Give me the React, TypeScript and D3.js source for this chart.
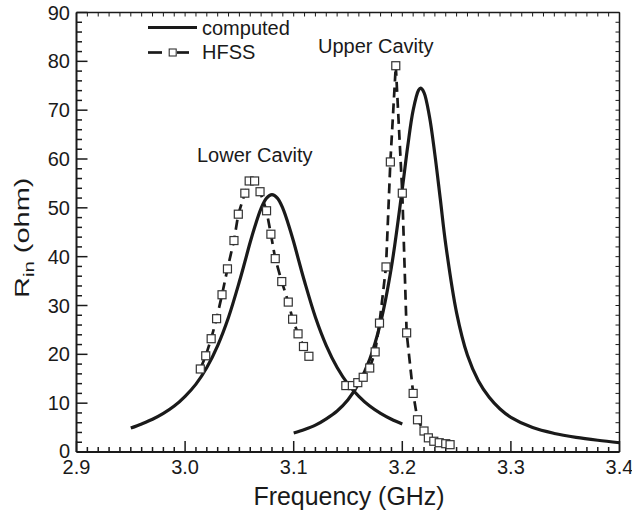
import React from "react";
import * as d3 from "d3";

// ---- data ----
const xTickLabels = [2.9, 3.0, 3.1, 3.2, 3.3, 3.4];
const yTickLabels = [0, 10, 20, 30, 40, 50, 60, 70, 80, 90];

const computedLower: [number, number][] = [
  [2.95, 4.9], [2.96, 5.75], [2.97, 6.7], [2.98, 7.9], [2.99, 9.4], [3.0, 11.4],
  [3.01, 13.9], [3.02, 17.3], [3.03, 21.8], [3.04, 27.6], [3.05, 34.9], [3.055, 38.9],
  [3.06, 43.0], [3.065, 46.7], [3.07, 49.9], [3.075, 52.0], [3.08, 52.7], [3.085, 52.0],
  [3.09, 49.9], [3.095, 46.7], [3.1, 43.0], [3.105, 38.9], [3.11, 34.9], [3.12, 27.6],
  [3.13, 21.8], [3.14, 17.3], [3.15, 13.9], [3.16, 11.4], [3.17, 9.4], [3.18, 7.9],
  [3.19, 6.7], [3.2, 5.75],
];

const computedUpper: [number, number][] = [
  [3.1, 3.9], [3.11, 4.6], [3.12, 5.5], [3.13, 6.8], [3.14, 8.4], [3.15, 10.7],
  [3.16, 14.1], [3.17, 19.0], [3.18, 26.5], [3.19, 37.9], [3.2, 53.9], [3.205, 62.6],
  [3.21, 70.0], [3.215, 74.1], [3.217, 74.5], [3.22, 73.6], [3.225, 68.7], [3.23, 60.9],
  [3.235, 51.8], [3.24, 42.5], [3.25, 28.5], [3.26, 19.8], [3.27, 14.6], [3.28, 11.2],
  [3.29, 8.8], [3.3, 7.1], [3.32, 5.0], [3.34, 3.8], [3.36, 3.0], [3.38, 2.4], [3.4, 1.9],
];

const hfssLower: [number, number][] = [
  [3.014, 17.0], [3.019, 19.7], [3.024, 23.2], [3.029, 27.3], [3.034, 32.2], [3.039, 37.5],
  [3.045, 43.3], [3.049, 48.7], [3.055, 53.0], [3.059, 55.5], [3.064, 55.5], [3.069, 53.3],
  [3.075, 49.4], [3.079, 44.6], [3.083, 39.6], [3.089, 34.9], [3.095, 30.7], [3.099, 27.2],
  [3.104, 24.2], [3.109, 21.6], [3.114, 19.6],
];

const hfssUpper: [number, number][] = [
  [3.148, 13.6], [3.154, 13.6], [3.159, 14.2], [3.164, 15.3], [3.170, 17.2], [3.175, 20.5],
  [3.179, 26.4], [3.185, 37.9], [3.189, 59.4], [3.194, 79.1], [3.2, 53.0], [3.204, 24.4],
  [3.21, 12.0], [3.214, 6.6], [3.22, 4.3], [3.224, 2.9], [3.229, 2.2], [3.234, 1.9],
  [3.24, 1.7], [3.244, 1.5],
];

const W = 632;
const H = 516;
const FONT = "'Liberation Sans', Arial, Helvetica, sans-serif";
const INK = "#1a1a1a";

export default function App() {
  const x = d3.scaleLinear().domain([2.9, 3.4]).range([76.5, 619.5]);
  const y = d3.scaleLinear().domain([0, 90]).range([452, 12.5]);

  const line = d3
    .line<[number, number]>()
    .x((d) => x(d[0]))
    .y((d) => y(d[1]))
    .curve(d3.curveCatmullRom.alpha(0.5));
  const straight = d3
    .line<[number, number]>()
    .x((d) => x(d[0]))
    .y((d) => y(d[1]));

  const xMinor = d3.range(0, 51).map((i) => ({ v: 2.9 + i * 0.01, major: i % 10 === 0 }));
  const yMinor = d3.range(0, 46).map((i) => ({ v: i * 2, major: i % 5 === 0 }));

  const [x0, x1] = x.range();
  const [yb, yt] = y.range();

  const sq = 8;
  const lsq = 7;

  return (
    <svg width={W} height={H} style={{ position: "absolute", left: 0, top: 0, background: "#fff" }}>
      <rect x={0} y={0} width={W} height={H} fill="#fff" />
      {/* frame */}
      <line x1={x0} x2={x1} y1={yb} y2={yb} stroke={INK} strokeWidth={2} />
      <line x1={x0} x2={x0} y1={yb} y2={yt} stroke={INK} strokeWidth={2} />
      <line x1={x0} x2={x1} y1={yt} y2={yt} stroke={INK} strokeWidth={1.5} />
      <line x1={x1} x2={x1} y1={yb} y2={yt} stroke={INK} strokeWidth={1.5} />
      {/* x ticks */}
      {xMinor.map((t, i) => (
        <g key={"xt" + i}>
          <line x1={x(t.v)} x2={x(t.v)} y1={yb} y2={yb - (t.major ? 11 : 5)} stroke={INK} strokeWidth={1.5} />
          <line x1={x(t.v)} x2={x(t.v)} y1={yt} y2={yt + 4} stroke={INK} strokeWidth={1} />
        </g>
      ))}
      {yMinor.map((t, i) => (
        <g key={"yt" + i}>
          <line x1={x0} x2={x0 + (t.major ? 11 : 5.5)} y1={y(t.v)} y2={y(t.v)} stroke={INK} strokeWidth={1.5} />
          <line x1={x1} x2={x1 - 4} y1={y(t.v)} y2={y(t.v)} stroke={INK} strokeWidth={1} />
        </g>
      ))}
      {xTickLabels.map((v) => (
        <text key={"xl" + v} x={x(v)} y={473.5} textAnchor="middle" fontFamily={FONT} fontSize={20} fill={INK}>
          {d3.format(".1f")(v)}
        </text>
      ))}
      {yTickLabels.map((v) => (
        <text key={"yl" + v} x={70} y={y(v) + (v === 0 ? 5.5 : 7)} textAnchor="end" fontFamily={FONT} fontSize={20} fill={INK}>
          {v}
        </text>
      ))}
      {/* axis titles */}
      <text x={349} y={505} textAnchor="middle" fontFamily={FONT} fontSize={26} fill={INK} textLength={191} lengthAdjust="spacingAndGlyphs">
        Frequency (GHz)
      </text>
      <g transform="translate(28.5,298) rotate(-90) scale(1.45,1)">
        <text x={0} y={0} fontFamily={FONT} fontSize={20} fill={INK}>
          R<tspan dy={5} fontSize={14}>in</tspan>
          <tspan dy={-5}> (ohm)</tspan>
        </text>
      </g>
      {/* computed curves */}
      <path d={line(computedLower) || ""} fill="none" stroke={INK} strokeWidth={3.2} />
      <path d={line(computedUpper) || ""} fill="none" stroke={INK} strokeWidth={3.2} />
      {/* HFSS */}
      {[hfssLower, hfssUpper].map((s, k) => (
        <path key={"h" + k} d={straight(s) || ""} fill="none" stroke={INK} strokeWidth={2.7} strokeDasharray="10,6" />
      ))}
      {[...hfssLower, ...hfssUpper].map((d, i) => (
        <rect key={"m" + i} x={x(d[0]) - sq / 2} y={y(d[1]) - sq / 2} width={sq} height={sq} fill="#fff" stroke="#333" strokeWidth={1.2} />
      ))}
      {/* annotations */}
      <text x={197} y={162} fontFamily={FONT} fontSize={20} fill={INK}>Lower Cavity</text>
      <text x={318} y={53} fontFamily={FONT} fontSize={20} fill={INK}>Upper Cavity</text>
      {/* legend */}
      <line x1={148} x2={197} y1={27.5} y2={27.5} stroke={INK} strokeWidth={3.2} />
      <text x={202} y={34.5} fontFamily={FONT} fontSize={20} fill={INK}>computed</text>
      <line x1={148} x2={162} y1={52.5} y2={52.5} stroke={INK} strokeWidth={2.7} />
      <line x1={177} x2={189} y1={52.5} y2={52.5} stroke={INK} strokeWidth={2.7} />
      <rect x={172.7 - lsq / 2} y={52.5 - lsq / 2} width={lsq} height={lsq} fill="#fff" stroke="#333" strokeWidth={1.1} />
      <text x={202} y={59} fontFamily={FONT} fontSize={20} fill={INK}>HFSS</text>
    </svg>
  );
}
